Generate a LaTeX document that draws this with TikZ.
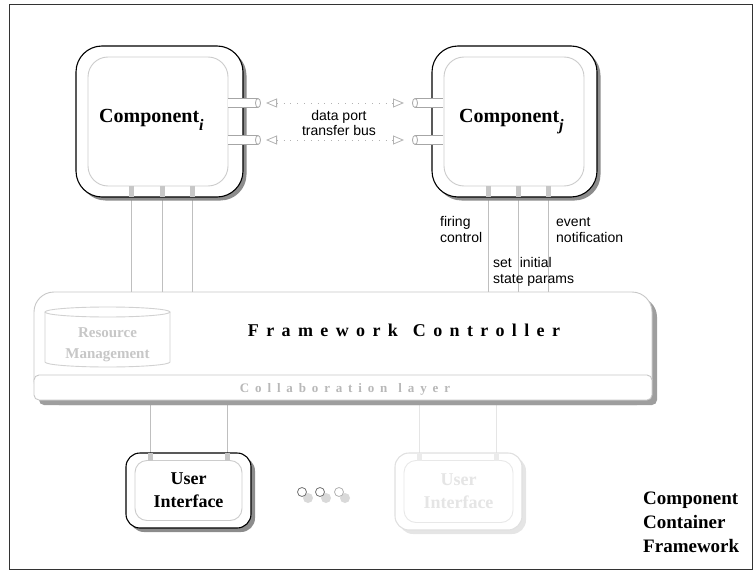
\documentclass[tikz,border=0pt]{standalone}
\usepackage{fontspec}
\setmainfont{Liberation Serif}
\setsansfont{Liberation Sans}
\newfontfamily\fcfont[LetterSpace=41]{Liberation Serif}
\newfontfamily\clfont[LetterSpace=45]{Liberation Serif}
\usetikzlibrary{arrows.meta,shadows,backgrounds}
\begin{document}
\begin{tikzpicture}[x=1pt,y=-1pt,
  comp/.style={draw=black,line width=1.1pt,fill=white,rounded corners=26pt,inner sep=0pt,
     drop shadow={shadow xshift=3.5pt,shadow yshift=-3.5pt,fill=black!45,opacity=1}},
  compin/.style={draw=black!20,line width=0.9pt,rounded corners=20pt,inner sep=0pt},
  port/.style={fill=black!22,inner sep=0pt,minimum width=5pt,minimum height=11pt},
  conn/.style={draw=black!25,line width=0.9pt},
  dport/.style={draw=black!35,line width=0.8pt,fill=white},
  bus/.style={draw=black!30,line width=0.8pt,dash pattern=on 0.8pt off 6pt,
     {Triangle[open,length=11pt,width=9pt]}-{Triangle[open,length=11pt,width=9pt]}},
  lbl/.style={font=\sffamily\fontsize{14}{16}\selectfont,inner sep=0pt,align=left,anchor=base west},
  ctrlbox/.style={draw=black!22,line width=0.9pt,fill=white,inner sep=0pt,
     drop shadow={shadow xshift=5pt,shadow yshift=-5pt,fill=black!38,opacity=1}},
  uibox/.style={draw=black,line width=1.1pt,fill=white,rounded corners=14pt,inner sep=0pt,
     minimum width=125pt,minimum height=75pt,
     drop shadow={shadow xshift=4pt,shadow yshift=-4pt,fill=black!45,opacity=1}},
  uiin/.style={draw=black!20,line width=0.9pt,rounded corners=12pt,inner sep=0pt,
     minimum width=107pt,minimum height=60pt,align=center,
     font=\bfseries\fontsize{18}{23}\selectfont},
  uiport/.style={fill=black!22,inner sep=0pt,minimum width=5pt,minimum height=8pt},
  fadebox/.style={draw=black!12,line width=1.1pt,fill=white,rounded corners=14pt,inner sep=0pt,
     minimum width=127pt,minimum height=77pt,
     drop shadow={shadow xshift=4pt,shadow yshift=-4pt,fill=black!10,opacity=1}},
  fadein/.style={draw=black!9,line width=0.9pt,rounded corners=12pt,inner sep=0pt,
     minimum width=109pt,minimum height=62pt,align=center,text=black!10,
     font=\bfseries\fontsize{18}{23}\selectfont},
  fadeport/.style={fill=black!8,inner sep=0pt,minimum width=5pt,minimum height=8pt},
  fadeconn/.style={draw=black!10,line width=0.9pt},
  resline/.style={draw=black!18,line width=0.9pt}
]
\useasboundingbox (0,0) rectangle (755,575);
\draw[black!80,line width=1pt] (9,5) rectangle (752,569);

% components
\node[comp,minimum width=167pt,minimum height=151pt] (ci) at (159.5,121.5) {};
\node[compin,minimum width=140pt,minimum height=129pt] (cii) at (158,121.5) {};
\node[comp,minimum width=165pt,minimum height=151pt] (cj) at (514.5,121.5) {};
\node[compin,minimum width=140pt,minimum height=129pt] (cji) at (514,121.5) {};

\node[anchor=base west,inner sep=0pt,font=\bfseries\fontsize{20}{24}\selectfont] (cit) at (99,123)
  {Component\raisebox{-8pt}{\fontsize{16}{16}\selectfont\bfseries\itshape i}};
\node[anchor=base west,inner sep=0pt,font=\bfseries\fontsize{20}{24}\selectfont] (cjt) at (459,123)
  {Component\raisebox{-8pt}{\fontsize{16}{16}\selectfont\bfseries\itshape j}};

% data port cylinders
\foreach \yy/\nm in {103/1,140/2}{
  \fill[white] (228,\yy-4.5) rectangle (258,\yy+4.5);
  \draw[dport] (228,\yy-4.5) -- (258,\yy-4.5) (228,\yy+4.5) -- (258,\yy+4.5);
  \draw[dport] (258,\yy) ellipse [x radius=2.5,y radius=4.5];
  \coordinate (ai\nm) at (266,\yy);
  \fill[white] (415,\yy-4.5) rectangle (443,\yy+4.5);
  \draw[dport] (415,\yy-4.5) -- (443,\yy-4.5) (415,\yy+4.5) -- (443,\yy+4.5);
  \draw[dport] (415,\yy) ellipse [x radius=2.5,y radius=4.5];
  \coordinate (aj\nm) at (404,\yy);
}
\draw[bus] (ai1) -- (aj1);
\draw[bus] (ai2) -- (aj2);
\node[font=\sffamily\fontsize{14}{15}\selectfont,inner sep=0pt,align=center,anchor=base] (dpt) at (339,136)
  {data port\\transfer bus};

% bottom ports of components
\node[port] (pi1) at (131,191.5) {};
\node[port] (pi2) at (162,191.5) {};
\node[port] (pi3) at (192,191.5) {};
\node[port] (pj1) at (488,191.5) {};
\node[port] (pj2) at (518,191.5) {};
\node[port] (pj3) at (548,191.5) {};

% controller
\node[ctrlbox,rounded corners=20pt,minimum width=618pt,minimum height=108pt] (ctrl) at (343,346) {};
\node[ctrlbox,rounded corners=5pt,minimum width=618pt,minimum height=25pt] (collab) at (343,387.5) {};
\node[anchor=base,inner sep=0pt,font=\fcfont\bfseries\fontsize{18}{20}\selectfont] (fct) at (404,336) {Framework\hspace{15pt}Controller};
\node[anchor=base,inner sep=0pt,text=black!28,font=\clfont\bfseries\fontsize{13}{15}\selectfont] (clt) at (345,392) {Collaboration\hspace{11pt}layer};

% resource management cylinder
\draw[resline] (45,312) -- (45,362) arc[start angle=180,end angle=0,x radius=62.5,y radius=5] -- (170,312);
\draw[resline] (107.5,312) ellipse [x radius=62.5,y radius=5];
\node[inner sep=0pt,align=center,text=black!22,font=\bfseries\fontsize{15}{21}\selectfont] (rm) at (107.5,345) {Resource\\Management};

% connector lines
\begin{scope}[on background layer]
\foreach \p in {pi1,pi2,pi3,pj1,pj2,pj3}{
  \draw[conn] (\p.south) -- (\p.south |- ctrl.north);
}
\end{scope}

% labels
\node[lbl] (lfc) at (440,242) {firing\\control};
\node[lbl] (lss) at (493,283) {set\hspace{4pt} initial\\state params};
\node[lbl] (len) at (556,242) {event\\notification};

% user interface 1
\node[uibox] (ui1) at (188.5,490.5) {};
\node[uiin] (ui1i) at (188.5,490.5) {User\\Interface};
\node[uiport] (up1) at (150,457) {};
\node[uiport] (up2) at (227,457) {};

% user interface 2 (faded)
\node[fadebox] (ui2) at (458.5,491.5) {};
\node[fadein] (ui2i) at (458.5,491.5) {User\\Interface};
\node[fadeport] (up3) at (419,457) {};
\node[fadeport] (up4) at (496,457) {};

\begin{scope}[on background layer]
\draw[conn] (up1.north) -- (up1.north |- collab.south);
\draw[conn] (up2.north) -- (up2.north |- collab.south);
\draw[fadeconn] (up3.north) -- (up3.north |- collab.south);
\draw[fadeconn] (up4.north) -- (up4.north |- collab.south);
\end{scope}

% ellipsis circles
\foreach \cx/\cc in {302/black!55,320/black!55,339/black!30}{
  \fill[black!15] (\cx+6,498) circle[radius=5];
  \draw[\cc,fill=white,line width=0.8pt] (\cx,492) circle[radius=4.5];
}

\node[anchor=base west,inner sep=0pt,align=left,font=\bfseries\fontsize{19}{24}\selectfont] (ccf) at (643,552)
  {Component\\Container\\Framework};
\end{tikzpicture}
\end{document}
